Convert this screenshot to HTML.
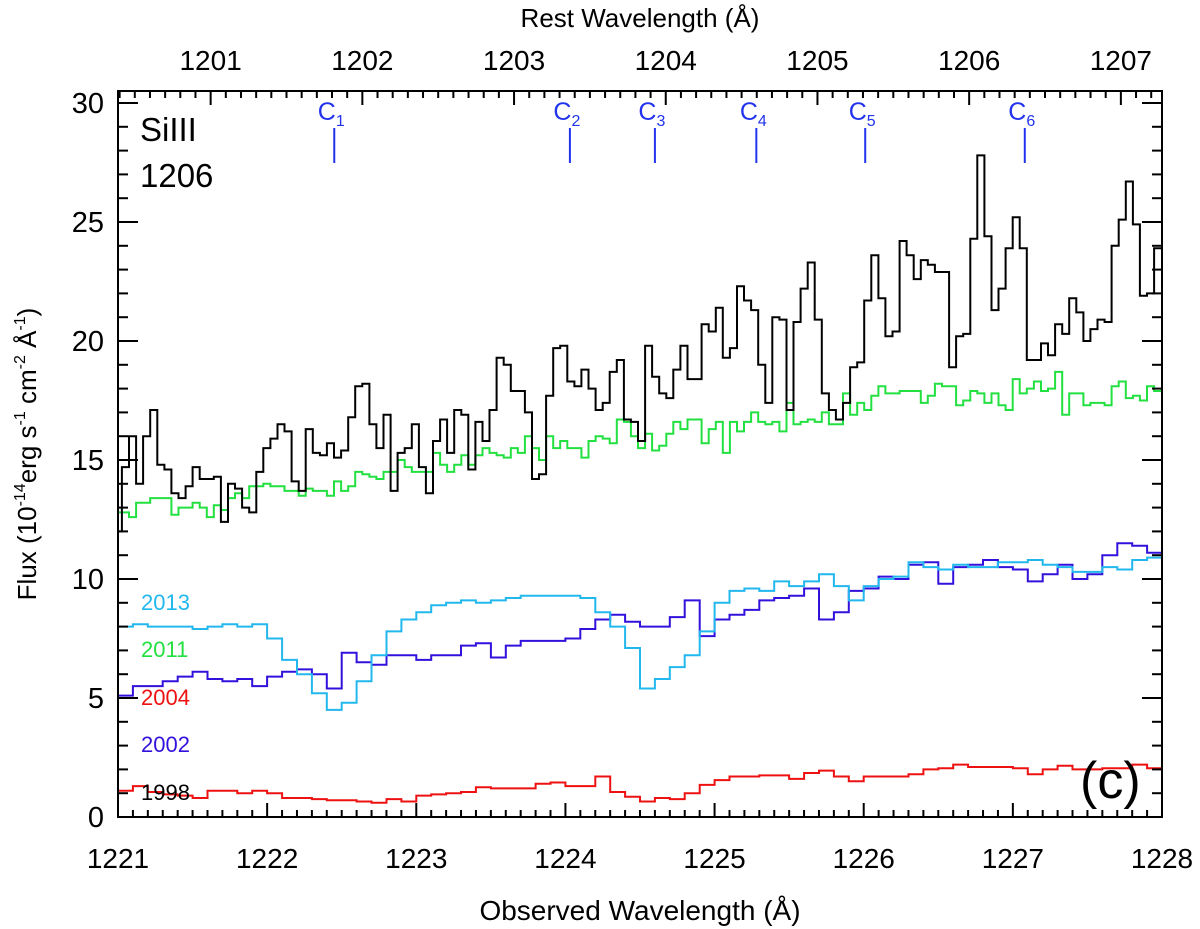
<!DOCTYPE html>
<html><head><meta charset="utf-8"><style>
html,body{margin:0;padding:0;background:#fff;}
svg{display:block;font-family:"Liberation Sans",Arial,sans-serif;}
</style></head><body>
<svg id="chart" width="1200" height="929" viewBox="0 0 1200 929" xmlns="http://www.w3.org/2000/svg">
<defs><clipPath id="plotclip"><rect x="118" y="91" width="1044" height="726"/></clipPath></defs>
<g id="series" clip-path="url(#plotclip)"></g>
<rect x="118" y="91" width="1044" height="726" fill="none" stroke="#000" stroke-width="2"/>
<g id="axes"></g>
<text x="640" y="27" font-size="26" text-anchor="middle">Rest Wavelength (Å)</text>
<text x="640" y="920" font-size="28" text-anchor="middle">Observed Wavelength (Å)</text>
<text transform="translate(36,454) rotate(-90)" font-size="26" text-anchor="middle">Flux (10<tspan font-size="16" dy="-11">-14</tspan><tspan dy="11">erg s</tspan><tspan font-size="16" dy="-11">-1</tspan><tspan dy="11"> cm</tspan><tspan font-size="16" dy="-11">-2</tspan><tspan dy="11"> Å</tspan><tspan font-size="16" dy="-11">-1</tspan><tspan dy="11">)</tspan></text>
<text x="140" y="141" font-size="33">SiIII</text>
<text x="140" y="187" font-size="33">1206</text>
<text x="1080" y="798" font-size="52">(c)</text>
<text x="141" y="610" font-size="22" fill="#22b8ee">2013</text>
<text x="141" y="657" font-size="22" fill="#22e040">2011</text>
<text x="141" y="705" font-size="22" fill="#ee1111">2004</text>
<text x="141" y="752" font-size="22" fill="#3311dd">2002</text>
<text x="141" y="800" font-size="22" fill="#000">1998</text>
<g id="markers"></g>
</svg>
<script>
const blackStart = 1220.979, blackStep = 0.0474;
const blackFlux = [12.0,14.7,16.0,14.0,16.0,17.1,14.8,14.6,13.6,13.4,13.9,14.7,14.2,14.2,14.3,12.4,14.0,13.8,13.0,12.8,14.5,15.5,15.9,16.5,16.2,14.1,13.7,16.3,15.3,15.2,15.7,15.1,15.4,16.8,18.1,18.2,16.5,15.5,16.9,13.7,15.3,15.5,16.5,14.7,13.6,15.8,16.7,15.3,17.1,16.9,14.6,
16.6,15.8,17.1,19.3,19.0,17.9,17.9,17.0,14.2,14.4,17.7,19.7,19.8,18.3,18.1,18.8,18.0,17.1,17.4,18.7,19.2,16.7,16.6,15.8,19.8,18.5,17.8,17.6,18.8,19.8,18.4,18.4,20.7,20.4,21.4,19.3,19.7,22.3,21.7,21.3,19.0,17.4,21.0,20.9,17.1,20.8,22.2,23.3,20.9,
17.8,17.1,16.7,17.4,18.9,19.1,21.7,23.6,21.8,20.2,20.4,24.2,23.6,22.6,23.4,23.2,22.9,22.9,18.9,20.2,20.3,24.3,27.8,24.4,21.3,22.2,23.9,25.2,23.9,19.2,19.2,19.9,19.4,20.7,20.3,21.8,21.2,20.0,20.5,20.9,20.8,24.0,25.1,26.7,24.9,21.9,22.0,23.9];
const greenStart = 1220.979, greenStep = 0.0474;
const greenFlux = [12.8,12.8,12.6,13.2,13.2,13.4,13.4,13.4,12.7,13.0,13.0,13.2,13.0,12.6,13.1,12.9,13.4,13.6,13.4,13.9,13.9,14.0,13.9,13.9,13.7,13.7,13.5,13.8,13.7,13.7,13.5,14.1,13.7,13.9,14.5,14.4,14.3,14.2,14.5,14.5,15.0,14.7,14.5,14.5,14.5,15.3,14.8,14.5,14.8,15.2,14.8,
15.2,15.5,15.3,15.2,15.1,15.5,15.3,16.0,15.5,15.0,16.0,15.5,15.8,15.5,15.5,15.1,15.8,16.0,15.9,15.7,16.7,16.6,16.0,15.5,16.1,15.4,15.6,16.1,16.6,16.3,16.7,16.7,15.7,16.3,16.6,15.3,16.6,16.2,16.6,17.0,16.6,16.5,16.6,16.2,17.4,16.5,16.6,16.7,16.6,
17.0,16.5,16.5,17.8,16.9,17.4,17.1,17.7,18.1,17.8,17.8,17.9,17.9,17.9,17.4,17.7,18.2,18.1,18.1,17.3,17.5,17.9,17.8,17.4,17.8,17.3,17.1,18.4,17.8,18.0,18.3,17.9,18.0,18.7,16.9,17.8,17.8,17.3,17.4,17.4,17.3,18.1,18.3,17.6,17.7,17.5,18.1,17.9];
const cyanStart = 1221.0, cyanStep = 0.1;
const cyanFlux = [8.0,8.1,8.0,8.0,8.0,7.9,8.0,8.1,8.0,8.1,7.5,6.6,6.0,5.2,4.5,4.8,5.7,6.8,7.8,8.3,8.6,8.9,9.0,9.1,
9.0,9.1,9.2,9.3,9.3,9.3,9.3,9.2,8.6,8.0,7.1,5.4,5.8,6.3,6.8,7.8,9.0,9.5,9.6,9.5,9.9,9.7,9.9,
10.2,9.7,9.1,9.7,10.0,10.1,10.7,10.5,10.4,10.6,10.5,10.5,10.7,10.7,10.8,10.6,10.5,10.3,10.3,10.5,10.4,10.8,10.9];
const purpleStart = 1221.0, purpleStep = 0.1;
const purpleFlux = [5.1,5.5,5.5,5.7,5.9,6.1,5.8,5.7,5.8,5.5,5.9,6.1,6.2,6.0,5.4,6.9,6.5,6.4,6.8,6.8,6.6,6.8,6.8,7.2,
7.3,6.7,7.2,7.4,7.4,7.4,7.5,7.9,8.3,8.5,8.2,8.0,8.0,8.4,9.1,7.6,8.3,8.5,8.7,9.1,9.2,9.3,9.6,
8.3,8.6,9.5,9.6,10.1,10.0,10.6,10.7,9.8,10.5,10.6,10.8,10.5,10.4,9.9,10.2,10.6,10.0,10.2,11.0,11.5,11.4,11.1];
const redStart = 1221.0, redStep = 0.1;
const redFlux = [1.1,1.3,1.05,0.95,0.9,0.8,1.1,1.1,1.0,1.1,1.0,0.8,0.8,0.75,0.7,0.7,0.65,0.6,0.75,0.65,0.9,0.95,1.0,1.05,
1.25,1.2,1.2,1.2,1.4,1.45,1.3,1.3,1.7,1.05,0.85,0.65,0.8,0.75,1.0,1.35,1.55,1.7,1.7,1.75,1.75,1.6,1.85,
1.95,1.7,1.5,1.7,1.7,1.7,1.8,2.0,2.05,2.2,2.1,2.1,2.1,2.05,1.8,2.0,2.15,2.0,2.0,2.05,2.05,2.2,2.05];
const markerNames = ["1","2","3","4","5","6"];
const markerWaves = [1222.45, 1224.03, 1224.60, 1225.28, 1226.01, 1227.08];
const obsTicks = [1221,1222,1223,1224,1225,1226,1227,1228];
const restTicks = [1201,1202,1203,1204,1205,1206,1207];
const fluxTicks = [0,5,10,15,20,25,30];

const X0=118,X1=1162,Y0=817,Y1=91, WMIN=1221, WMAX=1228;
const Z = 1.01717;
function xs(w){return X0+(w-WMIN)*(X1-X0)/(WMAX-WMIN);}
function ys(f){return Y0-f*23.8;}
function xr(r){return xs(r*Z);}
const NS="http://www.w3.org/2000/svg";
const series=document.getElementById('series'), axes=document.getElementById('axes'), markers=document.getElementById('markers');
function stepPath(start,step,vals){
  let d='M'+xs(start).toFixed(1)+','+ys(vals[0]).toFixed(1);
  for(let i=0;i<vals.length;i++){
    if(i>0) d+='V'+ys(vals[i]).toFixed(1);
    d+='H'+xs(start+(i+1)*step).toFixed(1);
  }
  return d;
}
function addSeries(name,start,step,vals,color){
  const p=document.createElementNS(NS,'path');
  p.setAttribute('d',stepPath(start,step,vals));
  p.setAttribute('fill','none');p.setAttribute('stroke',color);p.setAttribute('stroke-width','2');
  
  
  series.appendChild(p);
}
addSeries('series-2004',redStart,redStep,redFlux,'#ee1111');
addSeries('series-2002',purpleStart,purpleStep,purpleFlux,'#3311dd');
addSeries('series-2013',cyanStart,cyanStep,cyanFlux,'#22b8ee');
addSeries('series-2011',greenStart,greenStep,greenFlux,'#22e040');
addSeries('series-1998',blackStart,blackStep,blackFlux,'#000');

function line(x1,y1,x2,y2,g,color,w){
  const l=document.createElementNS(NS,'line');
  l.setAttribute('x1',x1);l.setAttribute('y1',y1);l.setAttribute('x2',x2);l.setAttribute('y2',y2);
  l.setAttribute('stroke',color||'#000');l.setAttribute('stroke-width',w||2);
  g.appendChild(l);return l;
}
function text(x,y,s,size,anchor,g,color){
  const t=document.createElementNS(NS,'text');
  t.setAttribute('x',x);t.setAttribute('y',y);t.setAttribute('font-size',size);
  t.setAttribute('text-anchor',anchor);if(color)t.setAttribute('fill',color);
  t.textContent=s;g.appendChild(t);return t;
}
for(let i=0;i<=70;i++){
  const w=WMIN+i*0.1, x=xs(w), major=(i%10===0);
  const l1=line(x,Y0,x,Y0-(major?14:7),axes);
  
  
}
obsTicks.forEach(w=>{
  const t=text(xs(w),868,String(w),28,'middle',axes);
  
  
});
for(let i=3;i<=73;i++){
  const r=1200+i*0.1, x=xr(r);
  if(x<X0-0.5||x>X1+0.5) continue;
  const major=(i%10===0);
  const l2=line(x,Y1,x,Y1+(major?14:7),axes);
  
  
}
restTicks.forEach(r=>{
  const t=text(xr(r),70,String(r),28,'middle',axes);
  
  
});
for(let f=0;f<=30;f++){
  const y=ys(f), major=(f%5===0);
  const a=line(X0,y,X0+(major?20:10),y,axes);
  
  
  const b=line(X1,y,X1-(major?20:10),y,axes);
  
  
}
fluxTicks.forEach(f=>{
  const t=text(104,ys(f)+10,String(f),29,'end',axes);
  
  
});
markerWaves.forEach((w,i)=>{
  const x=xs(w);
  const l=line(x,128,x,163,markers,'#2233ee',2);
  
  
  const t=document.createElementNS(NS,'text');
  t.setAttribute('x',x-3);t.setAttribute('y',120);t.setAttribute('font-size',25);
  t.setAttribute('text-anchor','middle');t.setAttribute('fill','#2233ee');
  t.innerHTML='C<tspan font-size="16" dy="6">'+markerNames[i]+'</tspan>';
  
  
  markers.appendChild(t);
});
</script>
</body></html>
